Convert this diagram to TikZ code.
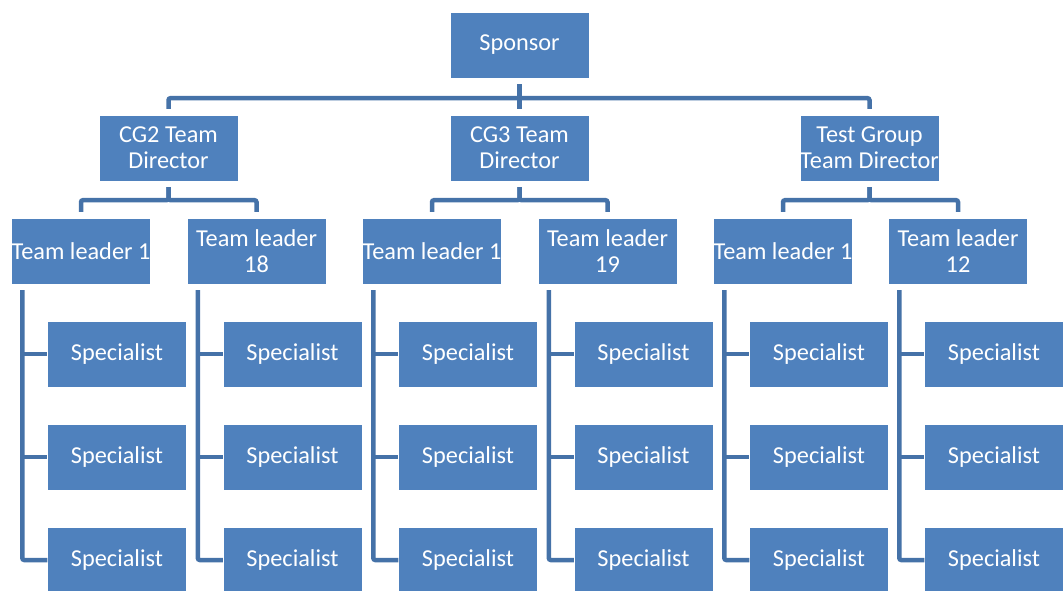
\documentclass[tikz,border=0pt]{standalone}
\usepackage{fontspec}
\setmainfont{Carlito}
\definecolor{boxblue}{RGB}{79,129,189}
\definecolor{lineblue}{RGB}{69,114,168}
\begin{document}
\begin{tikzpicture}[x=1pt,y=-1pt,
  box/.style={rectangle,fill=boxblue,draw=white,line width=0.4pt,minimum width=139pt,minimum height=66pt,inner sep=0pt,align=center,text=white,font=\fontsize{24.3}{26}\selectfont},
  conn/.style={draw=lineblue,line width=4.5pt,rounded corners=2pt}]
\useasboundingbox (0,0) rectangle (1064,590);
\node[box] (spon) at (519.5,45) {Sponsor};
\node[box] (d0) at (168.5,148) {CG2 Team\\Director};
\node[box] (d1) at (519.5,148) {CG3 Team\\Director};
\node[box] (d2) at (869.5,148) {Test Group\\Team Director};
\node[box] (t0a) at (81,251) {Team leader 1};
\node[box] (t0b) at (256.5,251) {Team leader\\18};
\node[box] (t1a) at (432,251) {Team leader 1};
\node[box] (t1b) at (607.5,251) {Team leader\\19};
\node[box] (t2a) at (783,251) {Team leader 1};
\node[box] (t2b) at (958,251) {Team leader\\12};
\foreach \d in {0,1,2}{
  \draw[conn] ([yshift=-6pt]spon.south) -- ++(0,-14pt) -| ([yshift=6pt]d\d.north);
}
\foreach \d in {0,1,2}{
  \foreach \t in {a,b}{
    \draw[conn] ([yshift=-6pt]d\d.south) -- ++(0,-13pt) -| ([yshift=6pt]t\d\t.north);
  }
}
\foreach \t/\x in {t0a/81,t0b/256.5,t1a/432,t1b/607.5,t2a/783,t2b/958}{
  \node[box] (\t s1) at (\x+36,354) {Specialist};
  \node[box] (\t s2) at (\x+36,457) {Specialist};
  \node[box] (\t s3) at (\x+36,560) {Specialist};
  \draw[conn] ([xshift=11pt,yshift=-6pt]\t.south west) |- (\t s3.west);
  \draw[conn,rounded corners=0pt] ([xshift=11pt]\t.south west |- \t s1.west) -- (\t s1.west);
  \draw[conn,rounded corners=0pt] ([xshift=11pt]\t.south west |- \t s2.west) -- (\t s2.west);
}
\end{tikzpicture}
\end{document}
